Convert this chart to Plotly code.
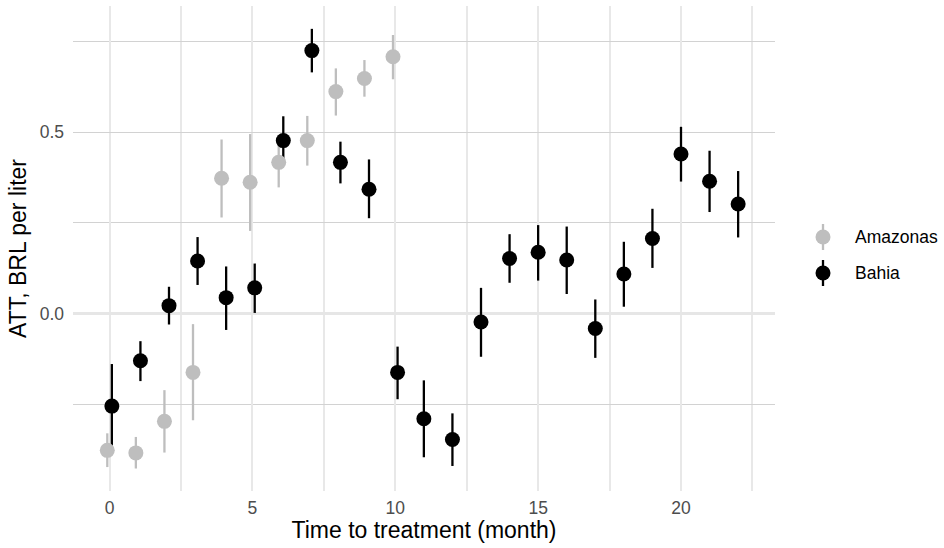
import plotly.graph_objects as go

# ---------------- data ----------------
amazonas_month = [0, 1, 2, 3, 4, 5, 6, 7, 8, 9, 10]
amazonas_att = [-0.377, -0.384, -0.297, -0.162, 0.373, 0.362, 0.417, 0.477, 0.612, 0.648, 0.708]
amazonas_low = [-0.423, -0.427, -0.383, -0.294, 0.265, 0.228, 0.348, 0.408, 0.546, 0.598, 0.646]
amazonas_high = [-0.330, -0.340, -0.211, -0.029, 0.480, 0.495, 0.486, 0.545, 0.676, 0.699, 0.768]

bahia_month = list(range(0, 23))
bahia_att = [-0.255, -0.130, 0.022, 0.145, 0.044, 0.071, 0.477, 0.725, 0.417, 0.343,
             -0.162, -0.290, -0.347, -0.023, 0.152, 0.169, 0.148, -0.041, 0.109, 0.207,
             0.440, 0.365, 0.302]
bahia_low = [-0.371, -0.186, -0.030, 0.079, -0.045, 0.002, 0.410, 0.665, 0.359, 0.263,
             -0.236, -0.396, -0.420, -0.119, 0.085, 0.091, 0.054, -0.122, 0.019, 0.126,
             0.364, 0.280, 0.210]
bahia_high = [-0.139, -0.076, 0.074, 0.211, 0.130, 0.138, 0.544, 0.785, 0.474, 0.425,
              -0.091, -0.184, -0.275, 0.071, 0.219, 0.244, 0.240, 0.039, 0.198, 0.289,
              0.515, 0.449, 0.393]

series_names = ["Amazonas", "Bahia"]
series_colors = ["#BEBEBE", "#000000"]

# ---------------- dodge (like position_dodge) ----------------
DODGE = 0.08
shared = set(amazonas_month) & set(bahia_month)
amazonas_x = [m - DODGE if m in shared else m for m in amazonas_month]
bahia_x = [m + DODGE if m in shared else m for m in bahia_month]

series = [
    (amazonas_x, amazonas_att, amazonas_low, amazonas_high),
    (bahia_x, bahia_att, bahia_low, bahia_high),
]

fig = go.Figure()

# ranges first (like geom_pointrange: all segments, then all points)
for (xs, ys, lo, hi), name, col in zip(series, series_names, series_colors):
    fig.add_trace(go.Scatter(
        x=xs, y=ys, mode="markers", name=name, showlegend=False,
        marker=dict(size=1, opacity=0, color=col),
        error_y=dict(type="data", symmetric=False,
                     array=[h - y for h, y in zip(hi, ys)],
                     arrayminus=[y - l for l, y in zip(lo, ys)],
                     width=0, thickness=2.3, color=col),
        hoverinfo="skip",
    ))
for (xs, ys, lo, hi), name, col in zip(series, series_names, series_colors):
    fig.add_trace(go.Scatter(
        x=xs, y=ys, mode="markers", name=name, showlegend=False,
        marker=dict(size=15, color=col, line=dict(width=0)),
    ))

FONT = "Liberation Sans, Arial, sans-serif"

# ---------------- manual legend (pointrange key) ----------------
L, R, T, B = 73, 169, 6, 57
W, H = 944, 548
pw, ph = W - L - R, H - T - B
key_x = (823 - L) / pw
text_x = (853 - L) / pw
key_y = [(H - B - 237) / ph, (H - B - 273) / ph]
for name, col, ky in zip(series_names, series_colors, key_y):
    fig.add_shape(type="line", xref="paper", yref="paper",
                  xsizemode="pixel", ysizemode="pixel",
                  xanchor=key_x, yanchor=ky, x0=0, x1=0, y0=-13, y1=13,
                  line=dict(color=col, width=2.3))
    fig.add_shape(type="circle", xref="paper", yref="paper",
                  xsizemode="pixel", ysizemode="pixel",
                  xanchor=key_x, yanchor=ky, x0=-7.5, x1=7.5, y0=-7.5, y1=7.5,
                  fillcolor=col, line=dict(width=0))
    fig.add_annotation(x=text_x, y=ky, xref="paper", yref="paper",
                       text=name, showarrow=False, xanchor="left", yanchor="middle",
                       font=dict(family=FONT, size=17.5, color="#000000"))

fig.update_layout(
    width=W, height=H,
    margin=dict(l=L, r=R, t=T, b=B, pad=0, autoexpand=False),
    paper_bgcolor="white", plot_bgcolor="white",
    font=dict(family=FONT, color="#000000"),
    showlegend=False,
)
fig.update_xaxes(
    range=[-1.28, 23.29], dtick=5, tick0=0, automargin=False,
    showgrid=True, gridcolor="#E8E8E8", gridwidth=2,
    minor=dict(dtick=2.5, showgrid=True, gridcolor="#E8E8E8", gridwidth=2),
    zeroline=False, showline=False, ticks="",
    tickfont=dict(family=FONT, size=17.5, color="#4D4D4D"),
    ticklabelstandoff=4,
    title=dict(text="Time to treatment (month)", standoff=2,
               font=dict(family=FONT, size=23, color="#000000")),
)
fig.update_yaxes(
    range=[-0.489, 0.848], dtick=0.5, tick0=0, tickformat=".1f", automargin=False,
    showgrid=True, gridcolor="#D2D2D2", gridwidth=1,
    minor=dict(dtick=0.25, showgrid=True, gridcolor="#D2D2D2", gridwidth=1),
    zeroline=True, zerolinecolor="#E6E6E6", zerolinewidth=2.5,
    showline=False, ticks="",
    tickfont=dict(family=FONT, size=17.5, color="#4D4D4D"),
    ticklabelstandoff=8,
    title=dict(text="ATT, BRL per liter", standoff=6,
               font=dict(family=FONT, size=23, color="#000000")),
)

fig.write_html("out.html",
               config={"displayModeBar": False},
               post_script="document.body.style.margin='0';document.body.style.padding='0';")
